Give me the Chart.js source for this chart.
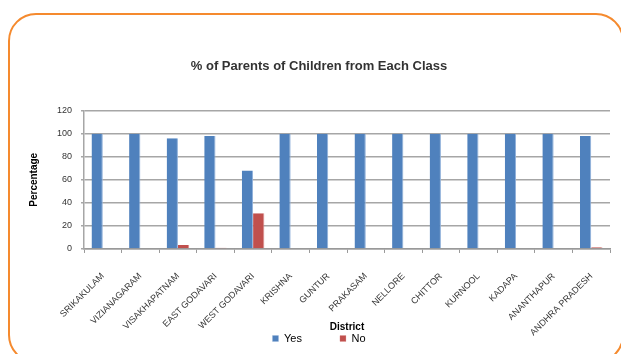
<!DOCTYPE html>
<html><head><meta charset="utf-8">
<script src="https://cdn.jsdelivr.net/npm/chart.js@4"></script>
<style>
html,body{margin:0;padding:0;background:#fff;overflow:hidden;}
#wrap{position:relative;width:621px;height:354px;overflow:hidden;}
#frame{position:absolute;left:8px;top:13px;width:616px;height:350px;border:2px solid #F58A2E;border-radius:28px;box-sizing:border-box;}
canvas{position:absolute;left:0;top:0;}
</style></head><body>
<div id="wrap"><div id="frame"></div><canvas id="c" width="621" height="354"></canvas></div>
<script>
const categories = ["SRIKAKULAM","VIZIANAGARAM","VISAKHAPATNAM","EAST GODAVARI","WEST GODAVARI","KRISHNA","GUNTUR","PRAKASAM","NELLORE","CHITTOR","KURNOOL","KADAPA","ANANTHAPUR","ANDHRA PRADESH"];
const yesValues = [100,100,96,98,68,100,100,100,100,100,100,100,100,98];
const noValues  = [0,0,3.5,1,31,0,0,0,0,0,0,0,0,1.5];
const yTicks = [0,20,40,60,80,100,120];
const FONT = "'Liberation Sans', Arial, sans-serif";
const noLabelClip = {
  id:'noLabelClip',
  beforeDraw(chart){ if (chart.scales.x) chart.scales.x._computeLabelArea = () => undefined; }
};
new Chart(document.getElementById('c'), {
  type: 'bar',
  data: {
    labels: categories,
    datasets: [
      {label:'Yes', data: yesValues, backgroundColor:'#4F81BD', borderColor:'#8FB0DA', borderWidth:{right:1}, categoryPercentage:0.6, barPercentage:1},
      {label:'No', data: noValues, backgroundColor:'#C0504D', borderColor:'#D98A88', borderWidth:{right:1}, categoryPercentage:0.6, barPercentage:1}
    ]
  },
  plugins:[noLabelClip],
  options: {
    responsive:false, animation:false, devicePixelRatio:1,
    layout:{padding:{left:28,right:11,top:0,bottom:0}},
    plugins:{
      title:{display:true,text:'% of Parents of Children from Each Class',color:'#333',font:{family:FONT,size:13,weight:'bold'},padding:{top:59,bottom:36}},
      legend:{position:'bottom',labels:{boxWidth:6,boxHeight:6,color:'#000',font:{family:FONT,size:11},padding:38},
        onClick:null},
      tooltip:{enabled:false}
    },
    scales:{
      x:{
        grid:{display:true,drawOnChartArea:false,drawTicks:true,tickLength:4,color:'#999'},
        border:{color:'#999',width:1.5},
        ticks:{color:'#333',font:{family:FONT,size:9},minRotation:45,maxRotation:45,padding:18},
        title:{display:true,text:'District',color:'#000',font:{family:FONT,size:10,weight:'bold'},padding:{top:-35,bottom:-38}}
      },
      y:{
        min:0,max:120,
        afterBuildTicks:(s)=>{s.ticks = yTicks.map(v=>({value:v}));},
        grid:{color:'#A6A6A6',lineWidth:1.5,tickLength:3},
        border:{color:'#A6A6A6',width:1.5},
        ticks:{color:'#333',font:{family:FONT,size:9},padding:9},
        title:{display:true,text:'Percentage',color:'#000',font:{family:FONT,size:10,weight:'bold'},padding:{top:0,bottom:8}}
      }
    }
  }
});
</script></body></html>
